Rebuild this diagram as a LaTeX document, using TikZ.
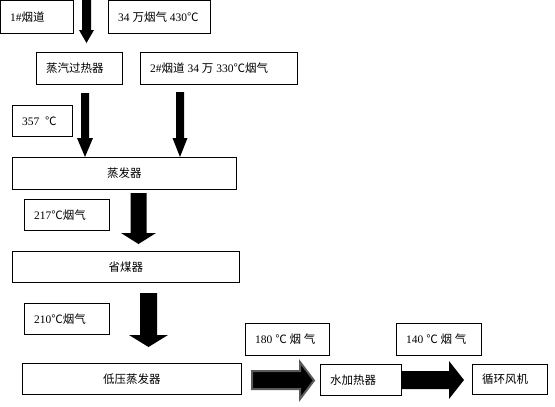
\documentclass[tikz,border=0pt]{standalone}
\usepackage{fontspec}
\setmainfont{Liberation Serif}
\newfontfamily\cjk{Noto Sans CJK SC}
\newcommand\zh[1]{{\cjk #1}}
\newcommand\dgc{{\cjk ℃}}
\tikzset{
  box/.style={draw=black, line width=0.8pt, anchor=north west, inner sep=0pt},
  lbl/.style={anchor=west, inner sep=0pt, font=\fontsize{11.5}{13}\selectfont},
  clbl/.style={anchor=center, inner sep=0pt, font=\fontsize{11.5}{13}\selectfont},
  blk/.style={fill=black},
  gblk/.style={fill=black, draw=black!65, line width=2pt, line join=miter}
}
% \bx{name}{x}{y}{w}{h}{text}  (left aligned text)
\newcommand\bx[6]{\node[box, minimum width=#4, minimum height=#5] (#1) at (#2,#3) {};
  \node[lbl] (#1-t) at ([xshift=10pt]#1.west) {#6};}
\newcommand\cbx[6]{\node[box, minimum width=#4, minimum height=#5] (#1) at (#2,#3) {};
  \node[clbl] (#1-t) at (#1.center) {#6};}
% \darr{xc}{ytop}{yhead}{ytip}{shaft half}{head half}
\newcommand\darr[6]{\fill[blk] (#1-#5,#2) -- (#1+#5,#2) -- (#1+#5,#3) -- (#1+#6,#3) -- (#1,#4) -- (#1-#6,#3) -- (#1-#5,#3) -- cycle;}
\begin{document}
\begin{tikzpicture}[x=1pt,y=-1pt]
\useasboundingbox (0,0) rectangle (555,407);
\fill[white] (0,0) rectangle (555,407);
\bx{b1}{0}{0}{73}{33}{1\#\zh{烟道}}
\bx{b2}{108}{0}{102}{33}{34 \zh{万烟气} 430\dgc}
\bx{gr}{36}{52}{86}{32}{\zh{蒸汽过热器}}
\bx{b3}{140}{52}{157}{32}{2\#\zh{烟道} 34 \zh{万} 330\dgc\zh{烟气}}
\bx{t357}{12}{105}{60}{31}{357\ \ \dgc}
\cbx{zf}{12}{157}{224}{32}{\zh{蒸发器}}
\bx{t217}{24}{199}{85}{31}{217\dgc\zh{烟气}}
\cbx{sm}{12}{251}{227}{31}{\zh{省煤器}}
\bx{t210}{24}{303}{85}{31}{210\dgc\zh{烟气}}
\cbx{dy}{22}{363}{219}{31}{\zh{低压蒸发器}}
\bx{t180}{245}{323}{84}{32}{180 \dgc\ \zh{烟 气}}
\bx{sj}{320}{364}{81}{31}{\zh{水加热器}}
\bx{t140}{396}{323}{85}{32}{140 \dgc\ \zh{烟 气}}
\bx{xh}{472}{364}{75}{30}{\zh{循环风机}}
% arrows
\darr{86.5}{0}{30}{43}{4.5}{7.5}
\darr{85}{93}{138}{157}{4}{8}
\darr{180}{92}{138}{157}{4}{7.5}
\darr{138.5}{193}{233}{244}{8}{17.5}
\darr{148.5}{293}{335}{347}{8.5}{19.5}
\filldraw[gblk] (252,371) -- (300,371) -- (300,362) -- (314,380.5) -- (300,399) -- (300,389) -- (252,389) -- cycle;
\fill[blk] (402,371) -- (449,371) -- (449,361) -- (464,380) -- (449,399) -- (449,389) -- (402,389) -- cycle;
\end{tikzpicture}
\end{document}
